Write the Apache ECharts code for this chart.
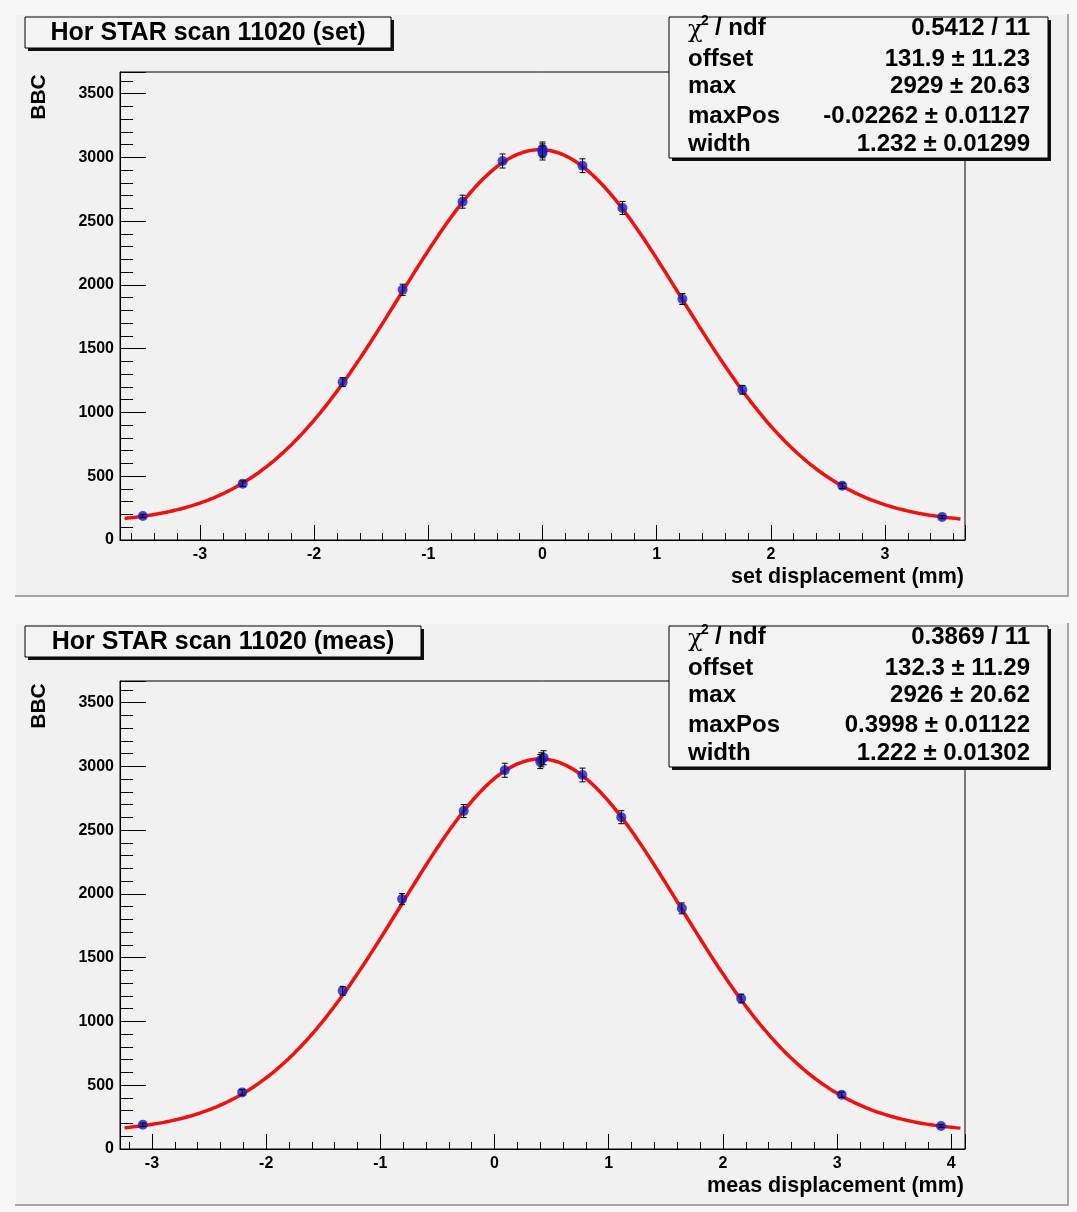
<!DOCTYPE html>
<html>
<head>
<meta charset="utf-8">
<script src="https://cdn.jsdelivr.net/npm/echarts@6.0.0/dist/echarts.min.js"></script>
<style>
html,body{margin:0;padding:0;background:#f7f7f7;}
#c{width:1077px;height:1212px;}
</style>
</head>
<body>
<div id="c"></div>
<script>
// ---------------- data ----------------
const setX   = [-3.5, -2.625, -1.75, -1.225, -0.7, -0.35, 0, 0, 0, 0.35, 0.7, 1.225, 1.75, 2.625, 3.5];
const setY   = [188, 442, 1238, 1962, 2653, 2972, 3035, 3052, 3066, 2935, 2604, 1890, 1178, 425, 180];
const setErr = [14, 21, 35, 44, 51, 55, 55, 55, 55, 54, 51, 43, 34, 21, 13];

const measX   = [-3.08, -2.21, -1.33, -0.81, -0.27, 0.09, 0.40, 0.41, 0.43, 0.77, 1.11, 1.64, 2.16, 3.04, 3.91];
const measY   = [190, 444, 1240, 1960, 2650, 2970, 3038, 3052, 3068, 2933, 2602, 1887, 1180, 425, 180];
const measErr = [14, 21, 35, 44, 51, 55, 55, 55, 55, 54, 51, 43, 34, 21, 13];

// fit parameters shown in the stats boxes: offset, max, maxPos, width
const setFitParams  = [131.9, 2929, -0.02262, 1.232];
const measFitParams = [132.3, 2926, 0.3998, 1.222];

const statLabels    = ['offset', 'max', 'maxPos', 'width'];
const setStatVals   = ['0.5412 / 11', '131.9 \u00b1 11.23', '2929 \u00b1 20.63', '-0.02262 \u00b1 0.01127', '1.232 \u00b1 0.01299'];
const measStatVals  = ['0.3869 / 11', '132.3 \u00b1 11.29', '2926 \u00b1 20.62', '0.3998 \u00b1 0.01122', '1.222 \u00b1 0.01302'];

const setXRange  = [-3.7, 3.7];
const measXRange = [-3.28, 4.12];
const yRange     = [0, 3670];

const titles  = ['Hor STAR scan 11020 (set)', 'Hor STAR scan 11020 (meas)'];
const xTitles = ['set displacement (mm)', 'meas displacement (mm)'];
const yTitle  = 'BBC';

// ---------------- drawing ----------------
const FONT = "'Liberation Sans', Arial, Helvetica, sans-serif";
const chart = echarts.init(document.getElementById('c'), null, {renderer: 'canvas'});

// fitted gaussian drawn from the displayed fit parameters
function fitCurve(p, lo, hi) {
  const pts = [];
  const n = 300;
  for (let i = 0; i <= n; i++) {
    const x = lo + (hi - lo) * i / n;
    const d = x - p[2];
    pts.push([x, p[0] + p[1] * Math.exp(-d * d / (2 * p[3] * p[3]))]);
  }
  return pts;
}

function errRender(params, api) {
  const x = api.value(0), y = api.value(1), e = api.value(2);
  const t = api.coord([x, y + e]), b = api.coord([x, y - e]);
  const c = 3;
  const st = {stroke: '#000', lineWidth: 1};
  return {type: 'group', children: [
    {type: 'line', shape: {x1: t[0], y1: t[1], x2: b[0], y2: b[1]}, style: st},
    {type: 'line', shape: {x1: t[0] - c, y1: t[1], x2: t[0] + c, y2: t[1]}, style: st},
    {type: 'line', shape: {x1: b[0] - c, y1: b[1], x2: b[0] + c, y2: b[1]}, style: st}
  ]};
}

const panels = [
  {X: setX, Y: setY, E: setErr, fit: setFitParams, xr: setXRange, vals: setStatVals, title: titles[0], xt: xTitles[0], titleRight: 391},
  {X: measX, Y: measY, E: measErr, fit: measFitParams, xr: measXRange, vals: measStatVals, title: titles[1], xt: xTitles[1], titleRight: 421}
];

const grids = [], xAxes = [], yAxes = [], series = [], elements = [];

panels.forEach((P, i) => {
  const off = i * 609;
  grids.push({left: 120, top: 72 + off, width: 845, height: 468, show: true,
    borderColor: '#000', borderWidth: 1, backgroundColor: 'rgba(0,0,0,0)'});
  xAxes.push({gridIndex: i, type: 'value', min: P.xr[0], max: P.xr[1], splitNumber: 7, position: 'bottom',
    axisLine: {show: true, onZero: false, lineStyle: {color: '#000', width: 1}},
    axisTick: {show: true, inside: true, length: 15, lineStyle: {color: '#000', width: 1}},
    minorTick: {show: true, splitNumber: 5, length: 7, lineStyle: {color: '#000', width: 1}},
    axisLabel: {show: true, showMinLabel: false, showMaxLabel: false, color: '#000', fontFamily: FONT,
      fontWeight: 'bold', fontSize: 16, margin: 7, formatter: v => String(v)},
    splitLine: {show: false}, minorSplitLine: {show: false}});
  yAxes.push({gridIndex: i, type: 'value', min: yRange[0], max: yRange[1], splitNumber: 7,
    axisLine: {show: true, onZero: false, lineStyle: {color: '#000', width: 1}},
    axisTick: {show: true, inside: true, length: 26, lineStyle: {color: '#000', width: 1}},
    minorTick: {show: true, splitNumber: 5, length: 13, lineStyle: {color: '#000', width: 1}},
    axisLabel: {show: true, showMaxLabel: false, color: '#000', fontFamily: FONT,
      fontWeight: 'bold', fontSize: 16, margin: 6, formatter: v => String(v)},
    splitLine: {show: false}, minorSplitLine: {show: false}});

  series.push({type: 'line', xAxisIndex: i, yAxisIndex: i, data: fitCurve(P.fit, P.xr[0] + 0.04, P.xr[1] - 0.04),
    showSymbol: false, symbol: 'none', smooth: false, silent: true, z: 2,
    lineStyle: {color: '#f01010', width: 3.5}});
  series.push({type: 'scatter', xAxisIndex: i, yAxisIndex: i, data: P.X.map((x, k) => [x, P.Y[k]]),
    symbol: 'circle', symbolSize: 10, itemStyle: {color: '#1a1ad0'}, z: 3, silent: true});
  series.push({type: 'custom', xAxisIndex: i, yAxisIndex: i, renderItem: errRender,
    data: P.X.map((x, k) => [x, P.Y[k], P.E[k]]), encode: {x: 0, y: 1}, z: 4, silent: true});

  // pad
  elements.push({type: 'rect', z: -10, shape: {x: 15, y: 14 + off, width: 1053, height: 582}, style: {fill: '#f1f1f1'}});
  elements.push({type: 'polyline', z: -9, shape: {points: [[15, 596 + off], [15, 14 + off], [1068, 14 + off]]}, style: {stroke: '#fbfbfb', lineWidth: 1, fill: null}});
  elements.push({type: 'polyline', z: -9, shape: {points: [[15, 596 + off], [1068, 596 + off], [1068, 14 + off]]}, style: {stroke: '#a6a6a6', lineWidth: 2, fill: null}});

  // title box
  const tr = P.titleRight;
  elements.push({type: 'rect', z: 50, shape: {x: 28, y: 20 + off, width: tr - 25, height: 31}, style: {fill: '#111'}});
  elements.push({type: 'rect', z: 51, shape: {x: 25, y: 17 + off, width: tr - 25, height: 31}, style: {fill: '#f3f3f3', stroke: '#000', lineWidth: 1}});
  elements.push({type: 'text', z: 52, x: (25 + tr) / 2, y: 33 + off,
    style: {text: P.title, fill: '#000', font: 'bold 25px ' + FONT, textAlign: 'center', textVerticalAlign: 'middle', verticalAlign: 'middle'}});

  // stats box
  elements.push({type: 'rect', z: 50, shape: {x: 672, y: 20 + off, width: 379, height: 141}, style: {fill: '#111'}});
  elements.push({type: 'rect', z: 51, shape: {x: 669, y: 17 + off, width: 379, height: 141}, style: {fill: '#f3f3f3', stroke: '#000', lineWidth: 1}});
  const rows = [28, 59, 86, 116, 144];
  // chi2 / ndf label
  elements.push({type: 'text', z: 52, x: 688, y: rows[0] + 3 + off,
    style: {text: '\u03c7', fill: '#000', font: '24px ' + "'DejaVu Serif', 'Liberation Serif', serif", textAlign: 'left', textVerticalAlign: 'middle', verticalAlign: 'middle'}});
  elements.push({type: 'text', z: 52, x: 701, y: rows[0] - 7 + off,
    style: {text: '2', fill: '#000', font: 'bold 14px ' + FONT, textAlign: 'left', textVerticalAlign: 'middle', verticalAlign: 'middle'}});
  elements.push({type: 'text', z: 52, x: 715, y: rows[0] + off,
    style: {text: '/ ndf', fill: '#000', font: 'bold 24px ' + FONT, textAlign: 'left', textVerticalAlign: 'middle', verticalAlign: 'middle'}});
  statLabels.forEach((lab, k) => {
    elements.push({type: 'text', z: 52, x: 688, y: rows[k + 1] + off,
      style: {text: lab, fill: '#000', font: 'bold 24px ' + FONT, textAlign: 'left', textVerticalAlign: 'middle', verticalAlign: 'middle'}});
  });
  P.vals.forEach((v, k) => {
    elements.push({type: 'text', z: 52, x: 1030, y: rows[k] + off,
      style: {text: v, fill: '#000', font: 'bold 24px ' + FONT, textAlign: 'right', textVerticalAlign: 'middle', verticalAlign: 'middle'}});
  });

  // axis titles
  elements.push({type: 'text', z: 52, x: 964, y: 577 + off,
    style: {text: P.xt, fill: '#000', font: 'bold 21.5px ' + FONT, textAlign: 'right', textVerticalAlign: 'middle', verticalAlign: 'middle'}});
  elements.push({type: 'text', z: 52, x: 39, y: 97 + off, rotation: Math.PI / 2,
    style: {text: yTitle, fill: '#000', font: 'bold 21px ' + FONT, textAlign: 'center', textVerticalAlign: 'middle', verticalAlign: 'middle'}});
});

chart.setOption({
  animation: false,
  backgroundColor: '#f7f7f7',
  grid: grids,
  xAxis: xAxes,
  yAxis: yAxes,
  series: series,
  graphic: {elements: elements}
});
</script>
</body>
</html>
